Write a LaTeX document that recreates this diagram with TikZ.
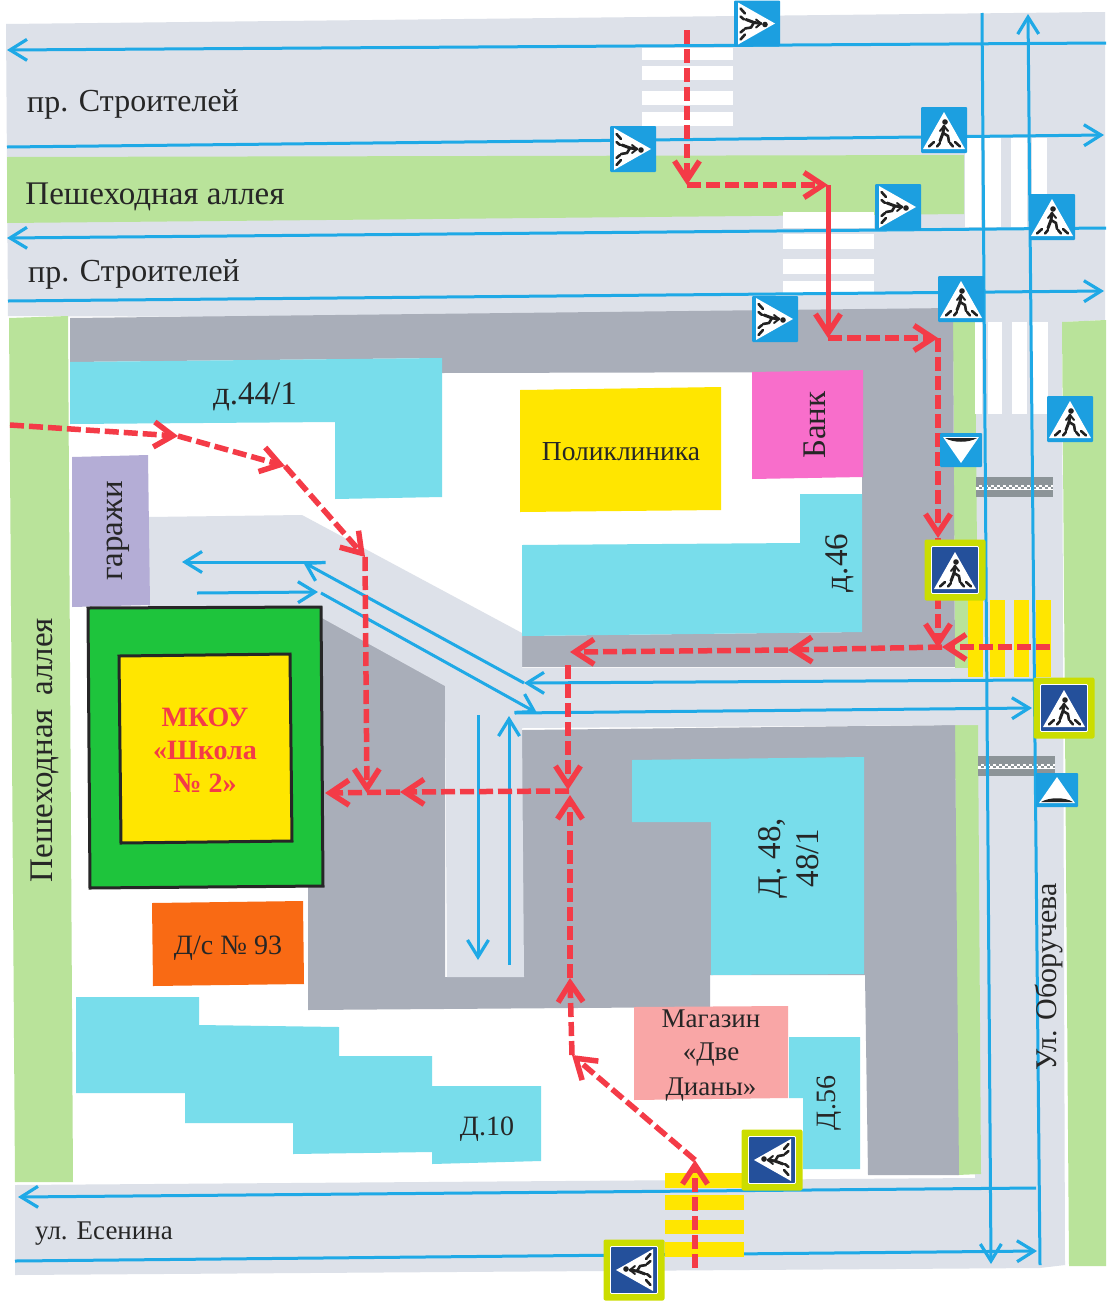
\documentclass[tikz,border=0pt]{standalone}
\usepackage{fontspec}
\setmainfont{Liberation Serif}
\usetikzlibrary{arrows.meta}
\definecolor{roadc}{HTML}{DDE1E9}
\definecolor{greenc}{HTML}{B9E39A}
\definecolor{darkc}{HTML}{A9AEB9}
\definecolor{cyanc}{HTML}{78DDEB}
\definecolor{bluec}{HTML}{1FA9E6}
\definecolor{redc}{HTML}{F43B47}
\definecolor{signb}{HTML}{1C9FE0}
\definecolor{signd}{HTML}{24509B}
\definecolor{limec}{HTML}{CBDD00}
\definecolor{yellc}{HTML}{FFE600}
\definecolor{figc}{HTML}{222222}
\definecolor{bankc}{HTML}{F86ECB}
\definecolor{garc}{HTML}{B4ADD6}
\definecolor{shopc}{HTML}{F9A6A6}
\definecolor{dsc}{HTML}{F96A14}
\definecolor{schoolc}{HTML}{1EC43C}
\definecolor{barc}{HTML}{8C9498}
\newcommand{\walkerbody}{%
  \fill[white] (0,-18)--(21,19)--(-21,19)--cycle;
  \fill[figc] (1,-8) circle (2.8);
  \draw[figc,line width=3pt,line cap=round,line join=round] (0,-4)--(-1,3)--(-4,11);
  \draw[figc,line width=2.6pt,line cap=round,line join=round] (-1,3)--(4,6)--(5,12);
  \draw[figc,line width=2pt,line cap=round] (0,-4)--(-4,1) (0,-4)--(4,1);
  \draw[figc,line width=2.6pt,line cap=round] (-15,16.5)--(-10,12) (-7,16.5)--(-4,13) (6,13)--(9,16.5) (11,12)--(16,16.5);
}
\tikzset{
  x=1pt,y=-1pt,
  label/.style={font=\fontsize{#1}{#1}\selectfont,text=black!85,inner sep=0pt},
  blueline/.style={draw=bluec,line width=3pt},
  bluearrow/.style={blueline,-{Straight Barb[length=17pt,width=21pt,line width=3.2pt]}},
  redpath/.style={draw=redc,line width=5.5pt,dash pattern=on 14pt off 5pt},
  redarrow/.style={redpath,-{Straight Barb[length=19pt,width=25pt,line width=5.5pt]}},
  redsolid/.style={draw=redc,line width=5pt,-{Straight Barb[length=19pt,width=25pt,line width=5.5pt]}},
  pedsign/.pic={
    \fill[signb,rounded corners=1pt] (-23,-23) rectangle (23,23);
    \walkerbody
  },
  framesign/.pic={
    \fill[limec,rounded corners=2pt] (-30.5,-30.5) rectangle (30.5,30.5);
    \fill[signd,draw=white,line width=.8pt,rounded corners=1pt] (-23.5,-23.5) rectangle (23.5,23.5);
    \walkerbody
  },
  bumpsign/.pic={
    \fill[signb,rounded corners=1pt] (-21,-17) rectangle (21,17);
    \fill[white] (0,-13)--(18,13)--(-18,13)--cycle;
    \fill[figc] (-16,12) .. controls (-8,7) and (8,7) .. (16,12) -- cycle;
  },
  bumpbar/.pic={
    \fill[barc] (-38.5,-10) rectangle (38.5,10);
    \fill[white] (-38.5,-2.5) rectangle (38.5,2.5);
    \draw[barc,line width=2.5pt,dash pattern=on 3pt off 3pt] (-38.5,-1.2)--(38.5,-1.2);
    \draw[barc,line width=2.5pt,dash pattern=on 3pt off 3pt,dash phase=3pt] (-38.5,1.2)--(38.5,1.2);
  }
}
\begin{document}
\begin{tikzpicture}
\useasboundingbox (0,0) rectangle (1106,1301);
\fill[white] (0,0) rectangle (1106,1301);
% roads
\fill[roadc] (6,24)--(1105,12)--(1105,320)--(1062,322)--(1065,1265)--(1040,1268)--(15,1275)--(15,1185)--(975,1178)--(975,320)--(8,316)--cycle;
% greens
\fill[greenc] (7,157)--(964,155)--(964,214)--(7,223)--cycle;
\fill[greenc] (9,318)--(68,316)--(73,1182)--(15,1182)--cycle;
\fill[greenc] (1062,322)--(1106,320)--(1106,1266)--(1069,1266)--cycle;
\fill[greenc] (953,320)--(975,320)--(978,668)--(955,668)--cycle;
\fill[greenc] (955,725)--(978,725)--(981,1174)--(957,1175)--cycle;
% dark yard surfaces
\fill[darkc] (70,318)--(953,308)--(955,667)--(522,667)--(522,636)--(862,632)--(862,372)--(442,373)--(442,358)--(70,362)--cycle;
\fill[darkc] (322,612)--(445,680)--(445,977)--(522,977)--(522,730)--(955,725)--(959,1175)--(868,1175)--(865,975)--(710,975)--(710,1007)--(308,1010)--(308,885)--(322,885)--cycle;
% light driveway
\fill[roadc] (148,517)--(302,515)--(522,633)--(522,668)--(975,668)--(978,725)--(522,728)--(524,977)--(447,977)--(445,686)--(322,618)--(322,607)--(148,607)--cycle;
% white crossings
\foreach \a/\b in {48/60,66/80,91/105,112/126}{\fill[white] (642,\a) rectangle (733,\b);}
\foreach \a/\b in {212/228,234/249,259/274,281/293}{\fill[white] (783,\a) rectangle (874,\b);}
\foreach \a/\b in {965/981,985/1001,1011/1027,1032/1047}{\fill[white] (\a,138) rectangle (\b,227);}
\foreach \a/\b in {975/982,988/1002,1012/1027,1032/1048}{\fill[white] (\a,322) rectangle (\b,414);}
% yellow vertical crossing
\foreach \a/\b in {968/983,990/1005,1014/1029,1036/1051}{\fill[yellc] (\a,600) rectangle (\b,677);}
% speed bumps
\pic at (1014,487) {bumpbar};
\pic at (1016,766) {bumpbar};
% buildings
\fill[cyanc] (70,362)--(442,358)--(442,497)--(335,499)--(335,422)--(70,424)--cycle;
\fill[cyanc] (522,545)--(800,543)--(800,494)--(862,494)--(862,632)--(522,636)--cycle;
\fill[cyanc] (632,760)--(864,757)--(864,974)--(711,975)--(711,822)--(632,822)--cycle;
\fill[cyanc] (76,997)--(199,997)--(199,1025)--(339,1027)--(339,1056)--(432,1056)--(432,1086)--(541,1086)--(541,1161)--(432,1164)--(432,1152)--(293,1154)--(293,1123)--(185,1123)--(185,1093)--(76,1093)--cycle;
\fill[cyanc] (789,1037)--(860,1037)--(860,1169)--(803,1169)--(803,1098)--(789,1098)--cycle;
\fill[yellc] (520,390)--(721,387)--(721,510)--(520,512)--cycle;
\fill[bankc] (752,372)--(863,370)--(863,477)--(752,479)--cycle;
\fill[garc] (72,457)--(148,455)--(150,605)--(72,607)--cycle;
\fill[shopc] (634,1007)--(788,1006)--(788,1098)--(634,1100)--cycle;
\fill[dsc] (152,903)--(303,901)--(304,984)--(153,986)--cycle;
\filldraw[fill=schoolc,draw=black!85,line width=3pt] (88,608)--(321,607)--(323,886)--(90,888)--cycle;
\filldraw[fill=yellc,draw=black!85,line width=3pt] (119,656)--(290,654)--(292,841)--(121,843)--cycle;
% coordinates of blue lines
\coordinate (bA1) at (1106,43); \coordinate (bA2) at (7,50);
\coordinate (bB1) at (7,147); \coordinate (bB2) at (1104,135);
\coordinate (bC1) at (1106,228); \coordinate (bC2) at (7,238);
\coordinate (bD1) at (8,301); \coordinate (bD2) at (1104,291);
\coordinate (vA1) at (982,13); \coordinate (vA2) at (991,1264);
\coordinate (vB1) at (1040,1265); \coordinate (vB2) at (1028,14);
\coordinate (eA1) at (1036,1188); \coordinate (eA2) at (18,1197);
\coordinate (eB1) at (15,1261); \coordinate (eB2) at (1037,1251);
\coordinate (dA1) at (1034,680); \coordinate (dA2) at (524,683);
\coordinate (dA3) at (303,562); \coordinate (dA4) at (325,562); \coordinate (dA5) at (182,562);
\coordinate (dB1) at (197,593); \coordinate (dB2) at (318,592);
\coordinate (dB3) at (321,593); \coordinate (dB4) at (537,713);
\coordinate (dB5) at (515,713); \coordinate (dB6) at (1032,708);
\coordinate (pA1) at (478,715); \coordinate (pA2) at (478,960);
\coordinate (pB1) at (509,965); \coordinate (pB2) at (509,716);
% blue lines
\draw[bluearrow] (bA1)--(bA2);
\draw[bluearrow] (bB1)--(bB2);
\draw[bluearrow] (bC1)--(bC2);
\draw[bluearrow] (bD1)--(bD2);
\draw[bluearrow] (vA1)--(vA2);
\draw[bluearrow] (vB1)--(vB2);
\draw[bluearrow] (eA1)--(eA2);
\draw[bluearrow] (eB1)--(eB2);
\draw[bluearrow] (dA1)--(dA2);
\draw[bluearrow] (dA2)--(dA3);
\draw[bluearrow] (dA4)--(dA5);
\draw[bluearrow] (dB1)--(dB2);
\draw[bluearrow] (dB3)--(dB4);
\draw[bluearrow] (dB5)--(dB6);
\draw[bluearrow] (pA1)--(pA2);
\draw[bluearrow] (pB1)--(pB2);
% yellow bottom crossing
\foreach \a/\b in {1173/1188,1195/1210,1220/1234,1242/1257}{\fill[yellc] (665,\a) rectangle (744,\b);}
% route coordinates
\coordinate (r1) at (687,30); \coordinate (r2) at (687,185); \coordinate (r3) at (828,185);
\coordinate (r4) at (828,338); \coordinate (r5) at (938,338); \coordinate (r6) at (938,538);
\coordinate (r7) at (938,648);
\coordinate (s1) at (1050,647); \coordinate (s2) at (942,647); \coordinate (s3) at (788,650); \coordinate (s4) at (570,652);
\coordinate (t1) at (568,665); \coordinate (t2) at (568,790);
\coordinate (u1) at (569,791); \coordinate (u2) at (400,792); \coordinate (u3) at (325,793);
\coordinate (w1) at (695,1268); \coordinate (w2) at (695,1160); \coordinate (w3) at (572,1055);
\coordinate (w4) at (570,978); \coordinate (w5) at (570,795);
\coordinate (l1) at (10,425); \coordinate (l2) at (178,436); \coordinate (l3) at (285,466);
\coordinate (l4) at (365,557); \coordinate (l5) at (367,793);
% routes
\draw[redarrow] (r1)--(r2);
\draw[redarrow] (r2)--(r3);
\draw[redsolid] (r3)--(r4);
\draw[redarrow] (r4)--(r5);
\draw[redarrow] (r5)--(r6);
\draw[redarrow] (r6)--(r7);
\draw[redarrow] (s1)--(s2);
\draw[redarrow] (s2)--(s3);
\draw[redarrow] (s3)--(s4);
\draw[redarrow] (t1)--(t2);
\draw[redarrow] (u1)--(u2);
\draw[redarrow] (u2)--(u3);
\draw[redarrow] (w1)--(w2);
\draw[redarrow] (w2)--(w3);
\draw[redarrow] (w3)--(w4);
\draw[redarrow] (w4)--(w5);
\draw[redarrow] (l1)--(l2);
\draw[redarrow] (l2)--(l3);
\draw[redarrow] (l3)--(l4);
\draw[redarrow] (l4)--(l5);
% signs
\pic[rotate=-90] at (757,23.5) {pedsign};
\pic[rotate=-90] at (633,149) {pedsign};
\pic[rotate=-90] at (898,207) {pedsign};
\pic[rotate=-90] at (775,319) {pedsign};
\pic at (944,130) {pedsign};
\pic at (1052,217) {pedsign};
\pic at (961,299) {pedsign};
\pic at (1070,419) {pedsign};
\pic at (955,570) {framesign};
\pic at (1064,708) {framesign};
\pic[rotate=90] at (772,1160) {framesign};
\pic[rotate=90] at (634,1270) {framesign};
\pic[yscale=-1] at (961,450) {bumpsign};
\pic at (1057,790) {bumpsign};
% labels
\node[label=32,rotate=0.3] (t1a) at (133,104) {пр. Строителей};
\node[label=32,rotate=0.3] (t1b) at (134,274) {пр. Строителей};
\node[label=33] (t1c) at (155,197) {Пешеходная аллея};
\node[label=33,rotate=90] (t1d) at (45,750) {Пешеходная\hspace{.4em}аллея};
\node[label=33] (t2) at (255,397) {д.44/1};
\node[label=27.5] (t3) at (621,452) {Поликлиника};
\node[label=33,rotate=90] (t4) at (815,425) {Банк};
\node[label=33,rotate=90] (t5) at (118,531) {гаражи};
\node[label=33,rotate=90] (t6) at (840,563) {д.46};
\node[label=33,rotate=90,align=center] (t7) at (789,858) {Д. 48,\\[5pt]48/1};
\node[label=30,rotate=90] (t8) at (1049,977) {Ул. Оборучева};
\node[label=27,align=center] (t9) at (711,1056) {Магазин\\[6pt]«Две\\[8pt]Дианы»};
\node[label=28,rotate=90] (t10) at (829,1103) {Д.56};
\node[label=28] (t11) at (487,1129) {Д.10};
\node[label=28] (t12) at (228,948) {Д/с № 93};
\node[label=27] (t13) at (104,1234) {ул. Есенина};
\node[font=\fontsize{28}{33}\selectfont\bfseries,text=redc,align=center,inner sep=0pt] (t14) at (205,750) {МКОУ\\«Школа\\№ 2»};
\end{tikzpicture}
\end{document}
